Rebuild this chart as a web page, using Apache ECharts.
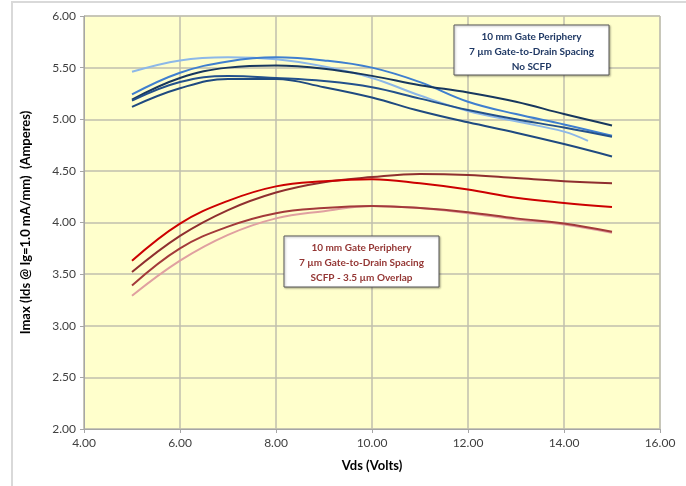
<!DOCTYPE html>
<html>
<head>
<meta charset="utf-8">
<script src="https://cdn.jsdelivr.net/npm/echarts@6/dist/echarts.min.js"></script>
<style>
html, body { margin: 0; padding: 0; background: #fff; }
#chart { width: 686px; height: 486px; }
</style>
</head>
<body>
<div id="chart"></div>
<script>
// 数据
var vds = [5, 6, 7, 8, 9, 10, 11, 12, 13, 14, 15];
var vdsLight = [5, 6, 7, 8, 9, 10, 11, 12, 13, 14, 14.5];

// No SCFP (blue)
var blueLight = [5.46, 5.57, 5.60, 5.58, 5.51, 5.40, 5.23, 5.08, 4.98, 4.88, 4.79];
var blueMid   = [5.24, 5.45, 5.56, 5.60, 5.57, 5.50, 5.36, 5.17, 5.05, 4.95, 4.84];
var blueNavy  = [5.19, 5.40, 5.50, 5.52, 5.49, 5.42, 5.33, 5.26, 5.17, 5.05, 4.94];
var blueDarkA = [5.18, 5.36, 5.42, 5.40, 5.37, 5.31, 5.20, 5.09, 5.00, 4.92, 4.83];
var blueDarkB = [5.12, 5.30, 5.39, 5.39, 5.31, 5.21, 5.08, 4.97, 4.87, 4.76, 4.64];

// SCFP - 3.5 um overlap (red)
var redBright = [3.63, 3.99, 4.21, 4.35, 4.40, 4.42, 4.38, 4.32, 4.24, 4.19, 4.15];
var redDark   = [3.52, 3.87, 4.12, 4.29, 4.39, 4.44, 4.47, 4.46, 4.43, 4.40, 4.38];
var redBrown  = [3.39, 3.75, 3.96, 4.09, 4.14, 4.16, 4.14, 4.10, 4.04, 3.99, 3.91];
var redPink   = [3.29, 3.63, 3.88, 4.04, 4.11, 4.16, 4.14, 4.09, 4.03, 3.98, 3.90];

var xTicks = ['4.00', '6.00', '8.00', '10.00', '12.00', '14.00', '16.00'];

function pairs(xs, ys) {
    return xs.map(function (x, i) { return [x, ys[i]]; });
}

function line(xs, ys, color) {
    return {
        type: 'line',
        smooth: 0.4,
        showSymbol: false,
        symbol: 'none',
        lineStyle: { color: color, width: 2 },
        data: pairs(xs, ys)
    };
}

var myChart = echarts.init(document.getElementById('chart'));
var fontFam = 'Lato, "Open Sans", sans-serif';

// 注释框
function noteBox(x, y, w, h, lines, color) {
    return [
        { type: 'rect', z: 100,
          shape: { x: x, y: y, width: w, height: h },
          style: { fill: '#fff', stroke: '#595959', lineWidth: 1,
                   shadowBlur: 2, shadowColor: 'rgba(0,0,0,0.3)', shadowOffsetX: 1, shadowOffsetY: 1 } },
        { type: 'text', z: 101,
          style: { x: x + w / 2, y: y + 4, text: lines.join('\n'), align: 'center', verticalAlign: 'top',
                   fill: color, font: 'bold 10px ' + fontFam, lineHeight: 15 } }
    ];
}

var option = {
    animation: false,
    grid: {
        left: 84,
        right: 26,
        top: 16,
        bottom: 57,
        show: true,
        backgroundColor: '#ffffcc',
        borderColor: '#bfbfbf',
        borderWidth: 1
    },
    xAxis: {
        type: 'value',
        min: 4,
        max: 16,
        interval: 2,
        name: 'Vds (Volts)',
        nameLocation: 'middle',
        nameGap: 30,
        nameTextStyle: { fontFamily: fontFam, fontWeight: 'bold', fontSize: 13, color: '#000' },
        axisLine: { show: true, lineStyle: { color: '#a6a6a6' } },
        axisTick: { show: true, length: 4, lineStyle: { color: '#a6a6a6' } },
        axisLabel: {
            fontFamily: fontFam, fontSize: 12, color: '#404040', margin: 8,
            formatter: function (v) { return xTicks[(v - 4) / 2]; }
        },
        splitLine: { show: true, lineStyle: { color: '#c0bfae', width: 1.5 } }
    },
    yAxis: {
        type: 'value',
        min: 2,
        max: 6,
        interval: 0.5,
        name: 'Imax (Ids @ Ig=1.0 mA/mm)  (Amperes)',
        nameLocation: 'middle',
        nameGap: 52,
        nameTextStyle: { fontFamily: fontFam, fontWeight: 'bold', fontSize: 13, color: '#000' },
        axisLine: { show: true, lineStyle: { color: '#a6a6a6' } },
        axisTick: { show: true, length: 4, lineStyle: { color: '#a6a6a6' } },
        axisLabel: {
            fontFamily: fontFam, fontSize: 12, color: '#404040', margin: 8,
            formatter: function (v) { return v.toFixed(2); }
        },
        splitLine: { show: true, lineStyle: { color: '#c0bfae', width: 1.5 } }
    },
    graphic: [
        {
            type: 'rect', z: -10,
            shape: { x: 12, y: 2, width: 700, height: 520 },
            style: { fill: 'none', stroke: '#d9d9d9', lineWidth: 2 }
        }
    ].concat(
        noteBox(454, 25, 155, 50, ['10 mm Gate Periphery', '7 µm Gate-to-Drain Spacing', 'No SCFP'], '#1f3864'),
        noteBox(284, 236, 155, 51, ['10 mm Gate Periphery', '7 µm Gate-to-Drain Spacing', 'SCFP - 3.5 µm Overlap'], '#943634')
    ),
    series: [
        line(vdsLight, blueLight, '#8db8e8'),
        line(vds, blueMid, '#3f7fcf'),
        line(vds, blueNavy, '#17375e'),
        line(vds, blueDarkA, '#23518c'),
        line(vds, blueDarkB, '#1f4a80'),
        line(vds, redPink, '#e0a0a0'),
        line(vds, redBrown, '#a33a3a'),
        line(vds, redDark, '#8f2f2f'),
        line(vds, redBright, '#cc0000')
    ]
};
myChart.setOption(option);
</script>
</body>
</html>
